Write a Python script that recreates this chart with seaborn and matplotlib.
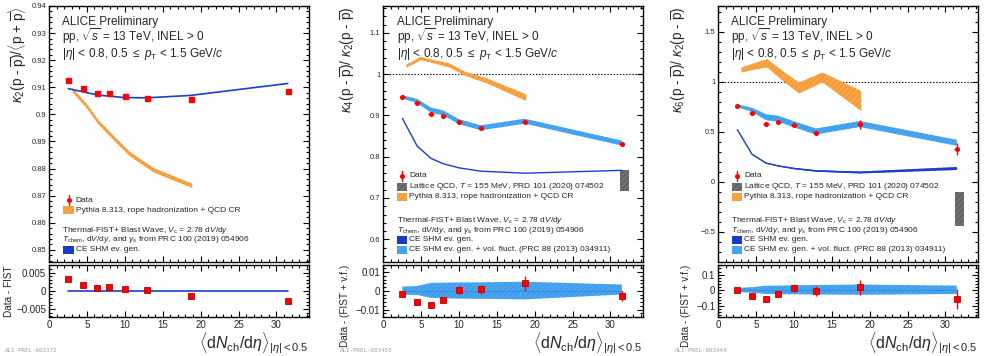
import matplotlib
matplotlib.use('Agg')
import matplotlib.pyplot as plt
import seaborn as sns
import pandas as pd
from matplotlib.patches import Rectangle
from matplotlib.ticker import MultipleLocator, FuncFormatter

# multiplicity classes <dNch/deta>
dndeta = [2.55, 4.50, 6.32, 7.95, 10.02, 12.90, 18.70, 31.50]
pythia_x = [3.1, 5.0, 6.5, 8.8, 10.7, 13.8, 18.9]

# panel 1: kappa2 / <p + pbar>
k2_data = [0.9125, 0.9099, 0.9078, 0.9078, 0.9066, 0.9062, 0.9056, 0.9087]
k2_fist = [0.9095, 0.9083, 0.9072, 0.9067, 0.9062, 0.9061, 0.9070, 0.9114]
k2_pythia = [0.9090, 0.9030, 0.8972, 0.8905, 0.8853, 0.8794, 0.8736]
k2_resid = [0.0031, 0.0016, 0.0007, 0.0011, 0.0004, 0.0001, -0.0014, -0.0027]

# panel 2: kappa4 / kappa2
k4_data = [0.945, 0.929, 0.904, 0.899, 0.885, 0.869, 0.885, 0.830]
k4_err = [0.002, 0.002, 0.003, 0.003, 0.003, 0.003, 0.004, 0.003]
k4_vf = [0.945, 0.935, 0.913, 0.906, 0.885, 0.870, 0.886, 0.833]
k4_vf_hw = [0.004, 0.005, 0.006, 0.006, 0.006, 0.006, 0.006, 0.006]
k4_ce = [0.893, 0.826, 0.796, 0.783, 0.773, 0.765, 0.760, 0.767]
k4_pythia = [1.019, 1.038, 1.031, 1.021, 1.002, 0.983, 0.943]
k4_pythia_hw = [0.004, 0.004, 0.004, 0.005, 0.005, 0.006, 0.008]
k4_lqcd = [0.717, 0.769]
k4_resid = [-0.0016, -0.0062, -0.0076, -0.0048, 0.0005, 0.0009, 0.0039, -0.0028]
k4_resid_err = [0.0005, 0.0005, 0.0018, 0.0014, 0.0022, 0.0024, 0.0039, 0.0025]
k4_band_up = [0.0022, 0.0025, 0.0042, 0.0043, 0.0044, 0.0045, 0.0048, 0.0033]
k4_band_lo = [-0.0022, -0.0022, -0.0038, -0.0040, -0.0042, -0.0043, -0.0046, -0.0020]

# panel 3: kappa6 / kappa2
k6_data = [0.761, 0.688, 0.585, 0.602, 0.573, 0.493, 0.579, 0.330]
k6_err = [0.006, 0.008, 0.010, 0.010, 0.012, 0.020, 0.045, 0.058]
k6_vf = [0.762, 0.722, 0.648, 0.632, 0.577, 0.505, 0.580, 0.392]
k6_vf_hw = [0.015, 0.020, 0.030, 0.030, 0.030, 0.030, 0.030, 0.030]
k6_ce = [0.523, 0.277, 0.190, 0.161, 0.135, 0.111, 0.095, 0.135]
k6_ce_hw = [0.003, 0.004, 0.005, 0.006, 0.007, 0.008, 0.010, 0.015]
k6_pythia = [1.120, 1.160, 1.187, 1.045, 0.940, 1.045, 0.810]
k6_pythia_hw = [0.025, 0.033, 0.042, 0.050, 0.055, 0.050, 0.100]
k6_lqcd = [-0.44, -0.10]
k6_resid = [0.000, -0.034, -0.055, -0.023, 0.015, -0.002, 0.019, -0.055]
k6_resid_err = [0.005, 0.006, 0.016, 0.016, 0.024, 0.032, 0.046, 0.065]
k6_band_up = [0.015, 0.020, 0.030, 0.030, 0.032, 0.034, 0.037, 0.030]
k6_band_lo = [-0.010, -0.015, -0.023, -0.024, -0.025, -0.026, -0.028, -0.023]

lqcd_x = [31.3, 32.4]

ORANGE = '#f8a546'
ORANGE_H = '#ea8a2a'
LBLUE = '#48a5f2'
LBLUE_H = '#3a90e0'
DBLUE = '#1b3fcc'
RED = '#ff0000'
GREY = '#707070'

sns.set_theme(style='ticks')
plt.rcParams['font.family'] = ['Liberation Sans', 'DejaVu Sans']
plt.rcParams['mathtext.fontset'] = 'custom'
plt.rcParams['mathtext.rm'] = 'Liberation Sans'
plt.rcParams['mathtext.it'] = 'Liberation Sans:italic'
plt.rcParams['mathtext.bf'] = 'Liberation Sans:bold'
plt.rcParams['hatch.linewidth'] = 0.4


def fmt(v, pos):
    s = '%g' % round(v, 6)
    return s.replace('-', '\u2212')


def style_axes(ax, ylim, ymaj, ymin, labsize):
    ax.set_xlim(0, 34.3)
    ax.set_ylim(*ylim)
    ax.xaxis.set_major_locator(MultipleLocator(5))
    ax.xaxis.set_minor_locator(MultipleLocator(1))
    ax.yaxis.set_major_locator(MultipleLocator(ymaj))
    ax.yaxis.set_minor_locator(MultipleLocator(ymin))
    ax.yaxis.set_major_formatter(FuncFormatter(fmt))
    ax.xaxis.set_major_formatter(FuncFormatter(fmt))
    ax.tick_params(which='both', direction='in', top=True, right=True,
                   width=0.8, color='black', labelsize=labsize, pad=2)
    ax.tick_params(which='major', length=4.5)
    ax.tick_params(which='minor', length=2.2)
    for s in ax.spines.values():
        s.set_linewidth(1.0)
        s.set_color('black')
    ax.set_xlabel('')
    ax.set_ylabel('')


def band(ax, x, y, hw, color, hcolor):
    lo = [a - b for a, b in zip(y, hw)]
    hi = [a + b for a, b in zip(y, hw)]
    ax.fill_between(x, lo, hi, facecolor=color, edgecolor=hcolor,
                    hatch='//////', lw=0, zorder=2)


def box_entry(ax, x0, y, color, hcolor, label):
    ax.add_patch(Rectangle((x0, y - 0.0145), 0.040, 0.029, transform=ax.transAxes,
                           facecolor=color, edgecolor=hcolor, hatch='//////',
                           lw=0, zorder=5))
    ax.text(x0 + 0.047, y, label, transform=ax.transAxes, va='center',
            ha='left', fontsize=6.0)


def data_entry(ax, x0, y, label):
    ax.plot([x0 + 0.02], [y], marker='o', ms=2.6, color=RED,
            transform=ax.transAxes, zorder=6)
    ax.plot([x0 + 0.02, x0 + 0.02], [y - 0.018, y + 0.018], color=RED, lw=1.0,
            transform=ax.transAxes, zorder=6)
    ax.text(x0 + 0.047, y, label, transform=ax.transAxes, va='center',
            ha='left', fontsize=6.0)


def header(ax, x0):
    ax.text(x0, 0.939, 'ALICE Preliminary', transform=ax.transAxes,
            fontsize=8.5, va='center')
    ax.text(x0, 0.881, r'pp, $\sqrt{s}$ = 13 TeV, INEL > 0',
            transform=ax.transAxes, fontsize=8.5, va='center')
    ax.text(x0, 0.812, r'$|\eta|$ < 0.8, 0.5 $\leq$ $p_{\rm T}$ < 1.5 GeV/$c$',
            transform=ax.transAxes, fontsize=8.5, va='center')


def fist_text(ax, x0, y):
    ax.text(x0, y, r'Thermal-FIST+ Blast Wave, $V_{\rm c}$ = 2.78 d$V$/d$y$',
            transform=ax.transAxes, fontsize=6.0, va='center')
    ax.text(x0, y - 0.039,
            r'$T_{\rm chem}$, d$V$/d$y$, and $\gamma_{\rm s}$ from PRC 100 (2019) 054906',
            transform=ax.transAxes, fontsize=6.0, va='center')


fig = plt.figure(figsize=(9.84, 3.56), dpi=100)
W, H = 984.0, 356.0
lefts = [49, 383, 718]
width = 260


def make_axes(left):
    top = fig.add_axes([left / W, 1 - 262 / H, width / W, 256 / H])
    bot = fig.add_axes([left / W, 1 - 317 / H, width / W, 52.5 / H])
    return top, bot


xlab = r'$\langle\mathrm{d}N_{\rm ch}/\mathrm{d}\eta\rangle_{|\eta|<0.5}$'

# ---------------- panel 1 ----------------
ax1, rx1 = make_axes(lefts[0])
band(ax1, pythia_x, k2_pythia, [0.0008] * 7, ORANGE, ORANGE_H)
df1 = pd.DataFrame({'x': dndeta, 'fist': k2_fist})
sns.lineplot(data=df1, x='x', y='fist', ax=ax1, color=DBLUE, lw=1.2, zorder=3)
ax1.plot(dndeta, k2_data, 's', ms=3.6, color=RED, mec=RED, zorder=4)
style_axes(ax1, (0.8455, 0.94), 0.01, 0.002, 5.5)
ax1.tick_params(labelbottom=False)
header(ax1, 0.05)
data_entry(ax1, 0.055, 0.242, 'Data')
box_entry(ax1, 0.055, 0.203, ORANGE, ORANGE_H, 'Pythia 8.313, rope hadronization + QCD CR')
fist_text(ax1, 0.049, 0.125)
box_entry(ax1, 0.055, 0.047, DBLUE, '#0f2a9a', 'CE SHM ev. gen.')
ax1.set_ylabel(r'$\kappa_{2}(\mathrm{p}$ - $\overline{\mathrm{p}})/\langle\mathrm{p}$ + $\overline{\mathrm{p}}\rangle$',
               fontsize=9.8, loc='top', labelpad=2)

sns.lineplot(x=[dndeta[0], dndeta[-1]], y=[0, 0], ax=rx1, color=DBLUE, lw=1.2)
rx1.plot(dndeta, k2_resid, 's', ms=4.2, color=RED, mec='#c00000', mew=0.6, zorder=4)
style_axes(rx1, (-0.0072, 0.0072), 0.005, 0.001, 7)
rx1.set_ylabel('Data - FIST', fontsize=7.2, labelpad=2)
rx1.set_xlabel(xlab, fontsize=11.5, loc='right', labelpad=0.5)

# ---------------- panel 2 ----------------
ax2, rx2 = make_axes(lefts[1])
ax2.axhline(1.0, color='black', ls=(0, (1.2, 1.6)), lw=0.8, zorder=1)
band(ax2, pythia_x, k4_pythia, k4_pythia_hw, ORANGE, ORANGE_H)
band(ax2, dndeta, k4_vf, k4_vf_hw, LBLUE, LBLUE_H)
df2 = pd.DataFrame({'x': dndeta, 'ce': k4_ce})
sns.lineplot(data=df2, x='x', y='ce', ax=ax2, color=DBLUE, lw=1.0, zorder=3)
ax2.add_patch(Rectangle((lqcd_x[0], k4_lqcd[0]), lqcd_x[1] - lqcd_x[0],
                        k4_lqcd[1] - k4_lqcd[0], facecolor=GREY, edgecolor='#4a4a4a',
                        hatch='//////', lw=0, zorder=2))
ax2.errorbar(dndeta, k4_data, yerr=k4_err, xerr=0.35, fmt='o', ms=2.6, color=RED,
             elinewidth=1.0, capsize=0, zorder=4)
style_axes(ax2, (0.545, 1.165), 0.1, 0.02, 5.5)
ax2.tick_params(labelbottom=False)
header(ax2, 0.053)
data_entry(ax2, 0.053, 0.336, 'Data')
box_entry(ax2, 0.053, 0.293, GREY, '#4a4a4a', r'Lattice QCD, $T$ = 155 MeV, PRD 101 (2020) 074502')
box_entry(ax2, 0.053, 0.254, ORANGE, ORANGE_H, 'Pythia 8.313, rope hadronization + QCD CR')
fist_text(ax2, 0.053, 0.164)
box_entry(ax2, 0.053, 0.086, DBLUE, '#0f2a9a', 'CE SHM ev. gen.')
box_entry(ax2, 0.053, 0.047, LBLUE, LBLUE_H, 'CE SHM ev. gen. + vol. fluct. (PRC 88 (2013) 034911)')
ax2.set_ylabel(r'$\kappa_{4}(\mathrm{p}$ - $\overline{\mathrm{p}})$/ $\kappa_{2}(\mathrm{p}$ - $\overline{\mathrm{p}})$',
               fontsize=9.8, loc='top', labelpad=8)

rx2.fill_between(dndeta, k4_band_lo, k4_band_up, facecolor=LBLUE, edgecolor=LBLUE_H,
                 hatch='//////', lw=0, zorder=2)
sns.lineplot(x=[dndeta[0], dndeta[-1]], y=[0, 0], ax=rx2, color=LBLUE_H, lw=0.8, zorder=3)
rx2.errorbar(dndeta, k4_resid, yerr=k4_resid_err, fmt='s', ms=4.2, color=RED,
             mec='#c00000', mew=0.6, elinewidth=1.0, capsize=0, zorder=4)
style_axes(rx2, (-0.014, 0.014), 0.01, 0.002, 7)
rx2.set_ylabel('Data - (FIST + v.f.)', fontsize=7.2, loc='top', labelpad=4)
rx2.set_xlabel(xlab, fontsize=11.5, loc='right', labelpad=0.5)

# ---------------- panel 3 ----------------
ax3, rx3 = make_axes(lefts[2])
ax3.axhline(1.0, color='black', ls=(0, (1.2, 1.6)), lw=0.8, zorder=1)
band(ax3, pythia_x, k6_pythia, k6_pythia_hw, ORANGE, ORANGE_H)
band(ax3, dndeta, k6_vf, k6_vf_hw, LBLUE, LBLUE_H)
band(ax3, dndeta, k6_ce, k6_ce_hw, DBLUE, '#0f2a9a')
df3 = pd.DataFrame({'x': dndeta, 'ce': k6_ce})
sns.lineplot(data=df3, x='x', y='ce', ax=ax3, color=DBLUE, lw=1.0, zorder=3)
ax3.add_patch(Rectangle((lqcd_x[0], k6_lqcd[0]), lqcd_x[1] - lqcd_x[0],
                        k6_lqcd[1] - k6_lqcd[0], facecolor=GREY, edgecolor='#4a4a4a',
                        hatch='//////', lw=0, zorder=2))
ax3.errorbar(dndeta, k6_data, yerr=k6_err, xerr=0.35, fmt='o', ms=2.6, color=RED,
             elinewidth=1.0, capsize=0, zorder=4)
style_axes(ax3, (-0.80, 1.76), 0.5, 0.1, 5.5)
ax3.tick_params(labelbottom=False)
header(ax3, 0.049)
data_entry(ax3, 0.053, 0.336, 'Data')
box_entry(ax3, 0.053, 0.293, GREY, '#4a4a4a', r'Lattice QCD, $T$ = 155 MeV, PRD 101 (2020) 074502')
box_entry(ax3, 0.053, 0.254, ORANGE, ORANGE_H, 'Pythia 8.313, rope hadronization + QCD CR')
fist_text(ax3, 0.049, 0.164)
box_entry(ax3, 0.053, 0.086, DBLUE, '#0f2a9a', 'CE SHM ev. gen.')
box_entry(ax3, 0.053, 0.047, LBLUE, LBLUE_H, 'CE SHM ev. gen. + vol. fluct. (PRC 88 (2013) 034911)')
ax3.set_ylabel(r'$\kappa_{6}(\mathrm{p}$ - $\overline{\mathrm{p}})$/ $\kappa_{2}(\mathrm{p}$ - $\overline{\mathrm{p}})$',
               fontsize=9.8, loc='top', labelpad=8)

rx3.fill_between(dndeta, k6_band_lo, k6_band_up, facecolor=LBLUE, edgecolor=LBLUE_H,
                 hatch='//////', lw=0, zorder=2)
sns.lineplot(x=[dndeta[0], dndeta[-1]], y=[0, 0], ax=rx3, color=LBLUE_H, lw=0.8, zorder=3)
rx3.errorbar(dndeta, k6_resid, yerr=k6_resid_err, fmt='s', ms=4.2, color=RED,
             mec='#c00000', mew=0.6, elinewidth=1.0, capsize=0, zorder=4)
style_axes(rx3, (-0.17, 0.165), 0.1, 0.02, 7)
rx3.set_ylabel('Data - (FIST + v.f.)', fontsize=7.2, loc='top', labelpad=4)
rx3.set_xlabel(xlab, fontsize=11.5, loc='right', labelpad=0.5)

# preliminary figure ids
for xpix, tag in [(5, 'ALI-PREL-603372'), (340, 'ALI-PREL-603453'), (675, 'ALI-PREL-603444')]:
    fig.text(xpix / W, 1 - 351 / H, tag, fontsize=4.2, color='#a0a0a0',
             family='DejaVu Sans Mono', va='center')

fig.savefig('out.png', dpi=100)
